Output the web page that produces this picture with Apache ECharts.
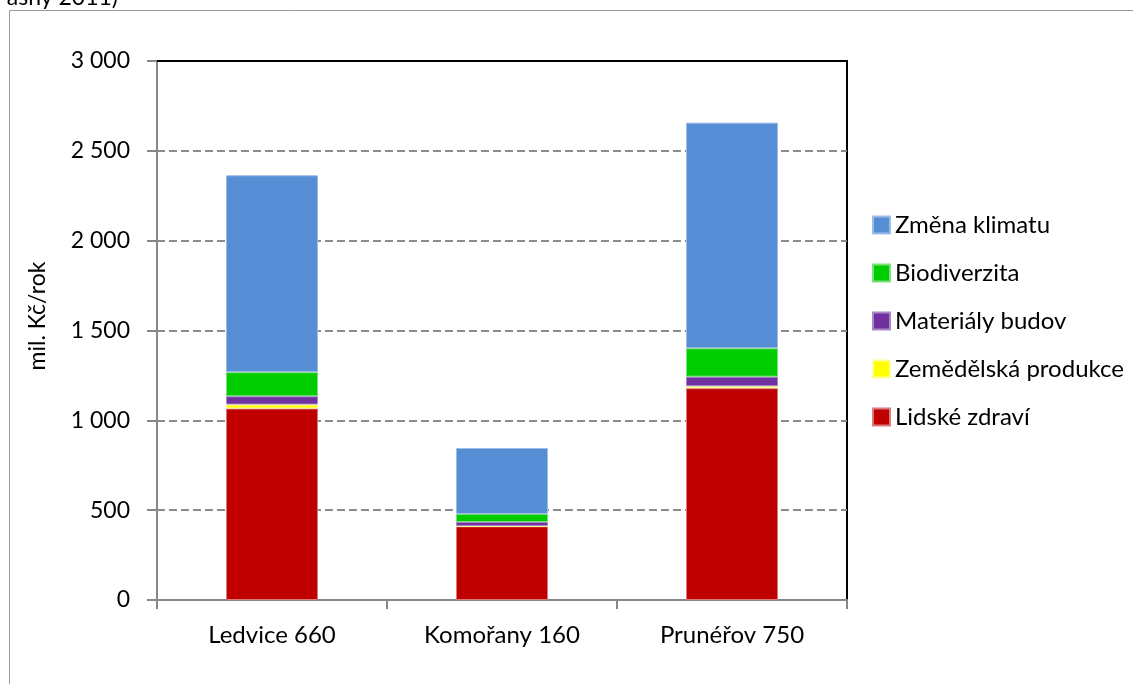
<!DOCTYPE html>
<html>
<head>
<meta charset="utf-8">
<script src="https://cdn.jsdelivr.net/npm/echarts@6/dist/echarts.min.js"></script>
<style>
  html, body { margin: 0; padding: 0; background: #fff; }
  #chart { width: 1133px; height: 684px; }
</style>
</head>
<body>
<div id="chart"></div>
<script>
// Externí náklady elektráren (mil. Kč/rok), po složkách škod
const categories = ['Ledvice 660', 'Komořany 160', 'Prunéřov 750'];
const lidskeZdravi = [1066, 410, 1179];
const zemedelskaProdukce = [22, 2, 11];
const materialyBudov = [46, 22, 53];
const biodiverzita = [134, 45, 158];
const zmenaKlimatu = [1096, 367, 1256];
const yTicks = [0, 500, 1000, 1500, 2000, 2500, 3000];

const FONT = 'Lato';
const chart = echarts.init(document.getElementById('chart'), null, { renderer: 'canvas' });

function fmtThousands(v) {
  return String(v).replace(/\B(?=(\d{3})+(?!\d))/g, ' ');
}

function barSeries(name, data, color, edge) {
  return {
    name: name,
    type: 'bar',
    stack: 'total',
    barWidth: '40%',
    data: data,
    itemStyle: { color: color, borderColor: edge, borderWidth: 1 },
    emphasis: { disabled: true }
  };
}

const yMax = yTicks[yTicks.length - 1];

chart.setOption({
  animation: false,
  textStyle: { fontFamily: FONT },
  grid: {
    left: 157, right: 286, top: 61, bottom: 84,
    show: true, borderColor: '#000', borderWidth: 2, backgroundColor: 'transparent'
  },
  legend: {
    orient: 'vertical',
    left: 867,
    top: 208,
    padding: 5,
    itemWidth: 17,
    itemHeight: 17,
    itemGap: 24,
    icon: 'rect',
    data: ['Změna klimatu', 'Biodiverzita', 'Materiály budov', 'Zemědělská produkce', 'Lidské zdraví'],
    textStyle: { fontFamily: FONT, fontSize: 24, color: '#000', lineHeight: 24 }
  },
  xAxis: {
    type: 'category',
    data: categories,
    boundaryGap: true,
    axisLine: { lineStyle: { color: '#878787', width: 2 } },
    axisTick: { show: true, length: 9, lineStyle: { color: '#878787', width: 2 } },
    axisLabel: { color: '#000', fontSize: 24, fontFamily: FONT, margin: 23 },
    splitLine: { show: false }
  },
  yAxis: {
    type: 'value',
    min: yTicks[0],
    max: yMax,
    interval: yTicks[1] - yTicks[0],
    axisLine: { show: true, lineStyle: { color: '#878787', width: 2 } },
    axisTick: { show: true, length: 10, lineStyle: { color: '#878787', width: 2 } },
    axisLabel: { color: '#000', fontSize: 23, fontFamily: FONT, margin: 27, formatter: fmtThousands },
    splitLine: { show: true, lineStyle: { color: '#8c8c8c', width: 2, type: [8, 4] } }
  },
  series: [
    barSeries('Lidské zdraví', lidskeZdravi, '#C00000', '#d97b7b'),
    barSeries('Zemědělská produkce', zemedelskaProdukce, '#FFFF00', '#ffff99'),
    barSeries('Materiály budov', materialyBudov, '#7030A0', '#a988c6'),
    barSeries('Biodiverzita', biodiverzita, '#00CC00', '#7ae07a'),
    barSeries('Změna klimatu', zmenaKlimatu, '#558ED5', '#9dbde8')
  ]
});

// Solid plot-area top edge over the topmost gridline, plus outer frame and texts
const topLeft = chart.convertToPixel({ gridIndex: 0 }, [0, yMax]);
const gridRect = chart.getModel().getComponent('grid', 0).coordinateSystem.getRect();

chart.setOption({
  graphic: [
    {
      type: 'rect', silent: true, z: -1,
      shape: { x: 9.5, y: 10.5, width: 1140, height: 700 },
      style: { fill: 'none', stroke: '#9a9a9a', lineWidth: 1 }
    },
    {
      type: 'line', silent: true, z: 100,
      shape: { x1: gridRect.x, y1: topLeft[1], x2: gridRect.x + gridRect.width + 1, y2: topLeft[1] },
      style: { stroke: '#000', lineWidth: 2 }
    },
    {
      type: 'text', silent: true,
      x: 38, y: 316, rotation: Math.PI / 2,
      style: {
        text: 'mil. Kč/rok', font: '23px ' + FONT, fill: '#000',
        align: 'center', verticalAlign: 'middle'
      }
    },
    {
      type: 'text', silent: true,
      x: 118, y: -2,
      style: {
        text: 'asný 2011)', font: '23px ' + FONT, fill: '#000',
        align: 'right', verticalAlign: 'middle'
      }
    }
  ]
});
</script>
</body>
</html>
